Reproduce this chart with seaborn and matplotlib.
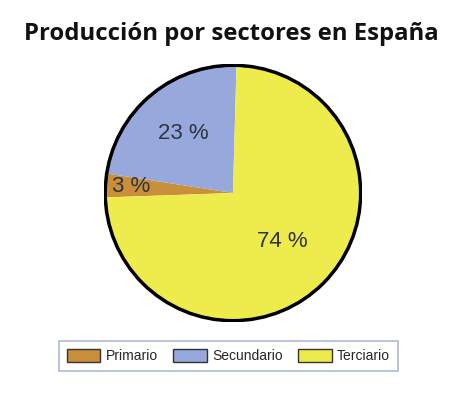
import matplotlib
matplotlib.use("Agg")
import matplotlib.pyplot as plt
import numpy as np
import seaborn as sns

# ─── Data ─────────────────────────────────────────────────────────────────────
SECTORS = ["Primario", "Secundario", "Terciario"]
SHARES = [3, 23, 74]
COLORS = ["#C98F3B", "#97A9DC", "#EEEC4C"]
TITLE = "Producción por sectores en España"

sns.set_theme(style="white")
plt.rcParams["font.family"] = ["Liberation Sans", "DejaVu Sans"]

fig = plt.figure(figsize=(4.5, 4.05), dpi=100)
ax = fig.add_axes([0.231, 0.205, 0.5733, 0.637])

palette = sns.color_palette(COLORS)
wedges, texts, autotexts = ax.pie(
    SHARES, colors=palette, startangle=182, counterclock=False,
    autopct=lambda p: f"{p:.0f} %", pctdistance=0.6,
    wedgeprops=dict(linewidth=0, edgecolor="none"),
    textprops=dict(fontsize=16, color="#2E3440"))

# per-wedge radial position of the percentage labels
label_r = [0.80, 0.61, 0.54]
for w, t, r in zip(wedges, autotexts, label_r):
    mid = np.deg2rad((w.theta1 + w.theta2) / 2)
    t.set_position((r * np.cos(mid), r * np.sin(mid)))

ax.add_patch(plt.Circle((0, 0), 1.0, fill=False, edgecolor="black", linewidth=2.5))
ax.set_xlim(-1.01, 1.01)
ax.set_ylim(-1.01, 1.01)
ax.set_aspect("equal")
ax.axis("off")

fig.text(0.513, 0.917, TITLE, ha="center", va="center", fontsize=17.2,
         fontweight="bold", family=["Open Sans", "DejaVu Sans"], color="#111111")

handles = [plt.Rectangle((0, 0), 1, 1, facecolor=c, edgecolor="#333333", linewidth=1)
           for c in palette]
leg = fig.legend(handles, SECTORS, loc="center", bbox_to_anchor=(0.508, 0.121),
                 ncol=3, frameon=True, fancybox=False, fontsize=10,
                 handlelength=2.4, handleheight=1.15, columnspacing=1.1,
                 handletextpad=0.4, borderpad=0.55)
leg.get_frame().set_edgecolor("#9AA8C8")
leg.get_frame().set_linewidth(1.2)

fig.savefig("out.png", dpi=100)
plt.close(fig)
